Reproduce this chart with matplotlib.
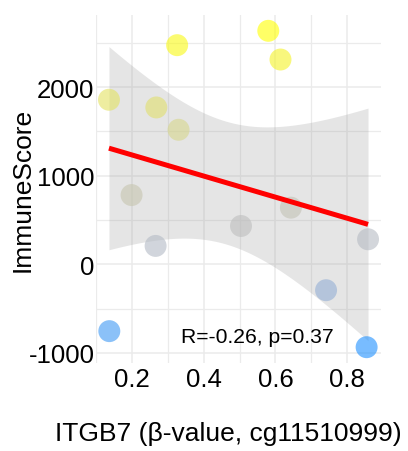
import numpy as np
import matplotlib
matplotlib.use("Agg")
import matplotlib.pyplot as plt
from matplotlib.colors import LinearSegmentedColormap, TwoSlopeNorm

plt.rcParams['font.family'] = ['Liberation Sans', 'DejaVu Sans']

# Data
beta = [0.580, 0.614, 0.326, 0.136, 0.268, 0.330, 0.199, 0.266, 0.504,
        0.643, 0.858, 0.741, 0.137, 0.854]
immune = [2635, 2311, 2473, 1857, 1770, 1518, 781, 207, 432,
          639, 282, -293, -755, -936]
x_ticks = [0.2, 0.4, 0.6, 0.8]
x_minor = [0.1, 0.3, 0.5, 0.7, 0.9]
y_ticks = [-1000, 0, 1000, 2000]
y_minor = [-500, 500, 1500, 2500]
annot = "R=-0.26, p=0.37"
xlabel = "ITGB7 (β-value, cg11510999)"
ylabel = "ImmuneScore"
color_mid_value = 450

x = np.array(beta, dtype=float)
y = np.array(immune, dtype=float)

fig = plt.figure(figsize=(4.08, 4.52), dpi=100)
ax = fig.add_axes([96/408, 1-364/452, (381-96)/408, (364-16)/452])

# grid
ax.set_xticks(x_ticks)
ax.set_xticks(x_minor, minor=True)
ax.set_yticks(y_ticks)
ax.set_yticks(y_minor, minor=True)
ax.grid(which='major', color='#EBEBEB', linewidth=1.1)
ax.grid(which='minor', color='#EBEBEB', linewidth=0.9)
ax.set_axisbelow(True)
for s in ax.spines.values():
    s.set_visible(False)
ax.tick_params(which='both', length=0)
ax.tick_params(axis='x', labelsize=18.5, pad=3)
ax.tick_params(axis='y', labelsize=18.5, pad=1)
ax.set_xticklabels([f"{v:.1f}" for v in x_ticks])
ax.set_yticklabels([str(v) for v in y_ticks])

# linear fit with 95% CI
n = len(x)
b1, b0 = np.polyfit(x, y, 1)
xs = np.linspace(x.min(), x.max(), 200)
yhat = b0 + b1 * xs
resid = y - (b0 + b1 * x)
s = np.sqrt(np.sum(resid**2) / (n - 2))
sxx = np.sum((x - x.mean())**2)
se = s * np.sqrt(1/n + (xs - x.mean())**2 / sxx)
tcrit = 2.178813  # t(0.975, df=12)
ax.fill_between(xs, yhat - tcrit*se, yhat + tcrit*se, color='#999999', alpha=0.25,
                linewidth=0, zorder=2)

# points coloured by score
cmap = LinearSegmentedColormap.from_list(
    'byg', [(0.0, '#1E90FF'), (0.25, '#9EB2D2'), (0.5, '#BEBEBE'),
            (0.75, '#D8D68A'), (1.0, '#FFFF00')])
norm = TwoSlopeNorm(vmin=y.min(), vcenter=color_mid_value, vmax=y.max())
ax.scatter(x, y, c=y, cmap=cmap, norm=norm, s=250, alpha=0.6, linewidths=0, zorder=3)

ax.plot(xs, yhat, color='red', linewidth=3.6, zorder=4, solid_capstyle='butt')

xr = x.max() - x.min()
yr = y.max() - y.min()
ax.set_xlim(x.min() - 0.05*xr, x.max() + 0.05*xr)
ax.set_ylim(y.min() - 0.05*yr, y.max() + 0.05*yr)

ax.text(0.337, -879, annot, fontsize=15.2, ha='left', va='baseline', zorder=5)

fig.text(228/408, 1-434/452, xlabel, fontsize=19, ha='center', va='center')
fig.text(23/408, 1-190/452, ylabel, fontsize=19, ha='center', va='center', rotation=90)

fig.savefig('out.png', dpi=100)
